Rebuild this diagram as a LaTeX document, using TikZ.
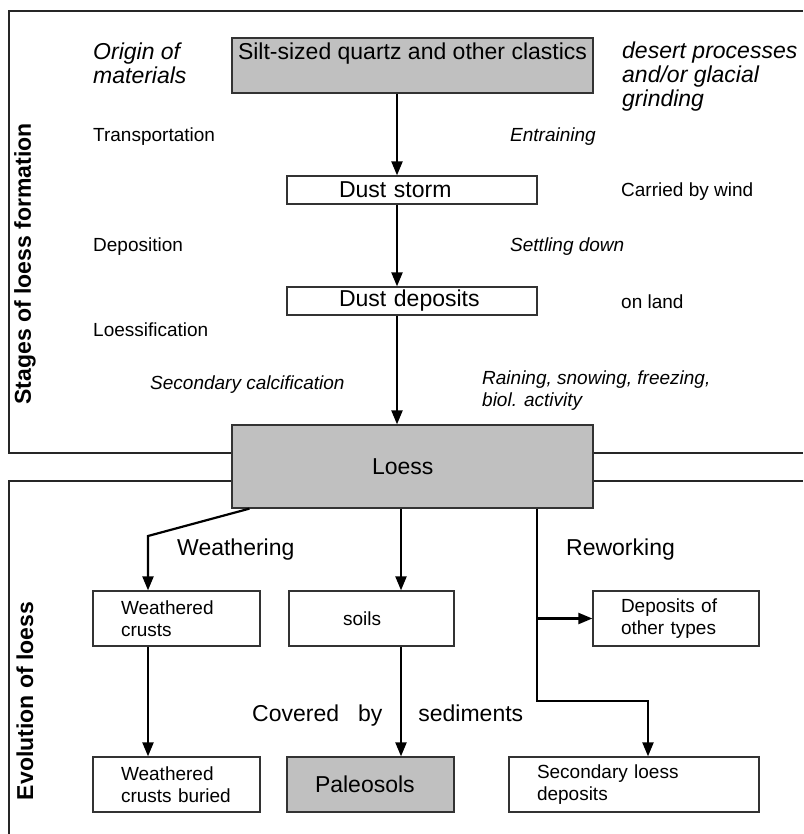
\documentclass[tikz,border=0pt]{standalone}
\usepackage{fontspec}
\setmainfont{Liberation Sans}
\usepackage{tikz}
\usetikzlibrary{arrows.meta,positioning}
\tikzset{>={Triangle[width=11pt,length=14pt]}}
\definecolor{boxgray}{RGB}{192,192,192}
\newcommand\sizeL{\fontsize{23}{24}\selectfont}
\newcommand\sizeS{\fontsize{19}{21.5}\selectfont}

\begin{document}
\begin{tikzpicture}[x=1pt, y=-1pt,
  frame/.style={line width=1.6pt, draw=black!85},
  box/.style={draw=black!80, line width=1.3pt, fill=white, inner ysep=0pt,
    minimum height=55pt, align=left, inner xsep=28pt},
  graybox/.style={box, fill=boxgray},
  thinbox/.style={box, minimum height=28pt, inner xsep=52pt, text width=146pt},
  lbl/.style={inner sep=0pt, anchor=west, align=left},
  arr/.style={->, line width=2.2pt}]

  \useasboundingbox (0,0) rectangle (803,834);

  % frames of the two parts
  \draw[frame] (232,453) -- (9,453) -- (9,11) -- (803,11);
  \draw[frame] (593,453) -- (803,453);
  \draw[frame] (232,481) -- (9,481) -- (9,834);
  \draw[frame] (593,481) -- (803,481);

  \node[font=\sizeL\bfseries, rotate=90] (stages) at (25,264) {Stages of loess formation};
  \node[font=\sizeL\bfseries, rotate=90] (evol) at (25,701) {Evolution of loess};

  % stages
  \node[graybox, minimum width=361pt, inner sep=0pt] (silt) at (412.5,65.5) {};
  \node[lbl, font=\sizeL, below=5pt of silt.north] (silttxt) {Silt-sized quartz and other clastics};
  \node[thinbox, font=\sizeL] (storm) at (412,190) {Dust storm};
  \node[thinbox, font=\sizeL] (dust) at (412,301) {Dust deposits};
  \node[graybox, font=\sizeL, minimum height=83pt, text width=81pt, inner xsep=140pt] (loess) at (412.5,466.5) {Loess};

  \node[lbl, font=\sizeL\itshape] (origin) at (93,63.5) {Origin of\\materials};
  \node[lbl, font=\sizeL\itshape] (desert) at (622,76.5) {desert processes\\and/or glacial\\grinding};
  \node[lbl, font=\sizeS] (transp) at (93,137) {Transportation};
  \node[lbl, font=\sizeS\itshape] (entrain) at (510,137) {Entraining};
  \node[lbl, font=\sizeS] (wind) at (621,192) {Carried by wind};
  \node[lbl, font=\sizeS] (depos) at (93,247) {Deposition};
  \node[lbl, font=\sizeS\itshape] (settle) at (510,247) {Settling down};
  \node[lbl, font=\sizeS] (land) at (621,302) {on land};
  \node[lbl, font=\sizeS] (loessif) at (93,330) {Loessification};
  \node[lbl, font=\sizeS\itshape] (calcif) at (150,385) {Secondary calcification};
  \node[lbl, font=\sizeS\itshape] (rain) at (482,390.5) {Raining, snowing, freezing,\\biol. activity};

  \coordinate (spine) at (397,0);
  \draw[arr] (silt.south -| spine) -- (storm.north -| spine);
  \draw[arr] (storm.south -| spine) -- (dust.north -| spine);
  \draw[arr] (dust.south -| spine) -- (loess.north -| spine);

  % evolution
  \node[box, font=\sizeS, text width=111pt] (crusts) at (176.5,618.5) {Weathered\\crusts};
  \node[box, font=\sizeS, text width=57pt, inner xsep=54pt] (soils) at (371.5,618.5) {soils};
  \node[box, font=\sizeS, text width=110pt] (other) at (676,618.5) {Deposits of\\other types};
  \node[box, font=\sizeS, text width=111pt] (buried) at (176.5,784.5) {Weathered\\crusts buried};
  \node[graybox, font=\sizeL, text width=111pt] (paleo) at (370.5,784.5) {Paleosols};
  \node[box, font=\sizeS, text width=194pt] (second) at (634,784.5) {Secondary loess\\deposits};

  \node[lbl, font=\sizeL] (weath) at (177,550) {Weathering};
  \node[lbl, font=\sizeL] (rework) at (566,550) {Reworking};
  \node[lbl, font=\sizeL] (cover) at (252,716) {Covered\hspace{19pt}by\hspace{36pt}sediments};

  \coordinate (wbend) at (148,536);
  \draw[arr] ([xshift=18pt]loess.south west) -- (wbend) -- (crusts.north -| wbend);
  \draw[arr] (crusts.south -| wbend) -- (buried.north -| wbend);

  \coordinate (mid) at (401,0);
  \draw[arr] (loess.south -| mid) -- (soils.north -| mid);
  \draw[arr] (soils.south -| mid) -- (paleo.north -| mid);

  \coordinate (rfork) at (537,618.5);
  \coordinate (rbend) at (537,701);
  \draw[arr] (loess.south -| rbend) -- (rbend) -| ([xshift=14pt]second.north);
  \draw[arr] (rfork) -- (other.west);

\end{tikzpicture}
\end{document}
